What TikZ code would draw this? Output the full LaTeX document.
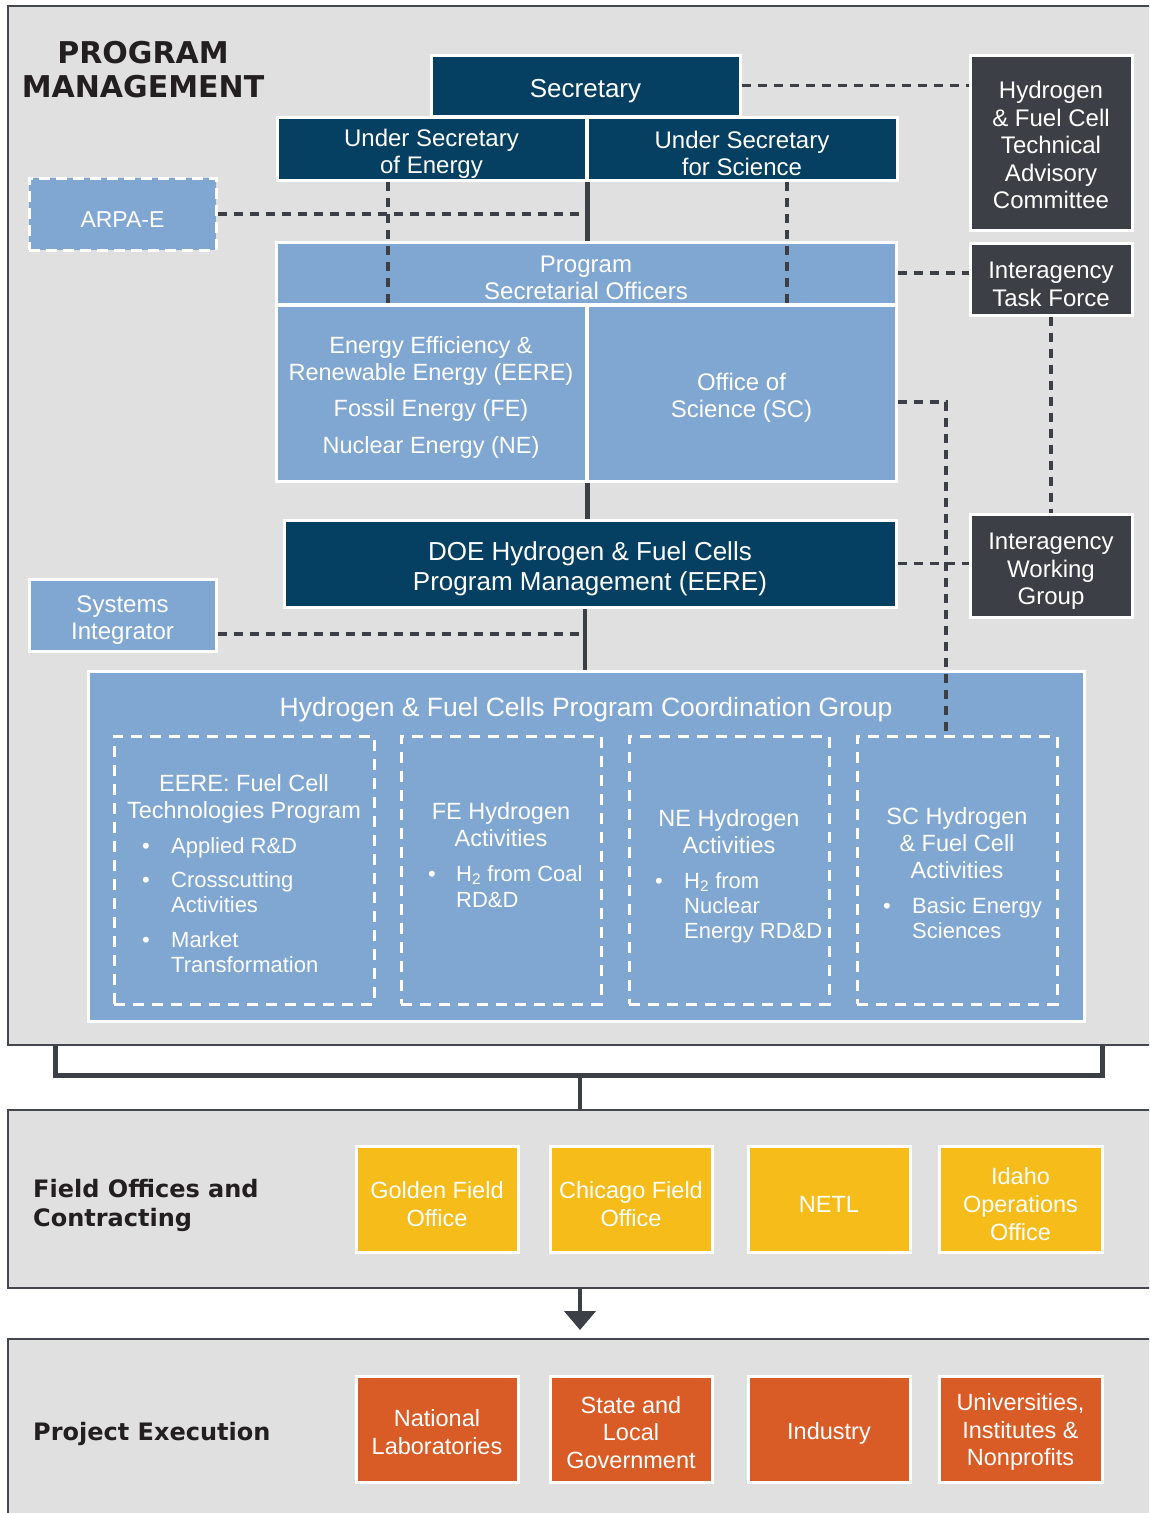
\documentclass[tikz,border=0pt]{standalone}
\usepackage{fontspec}
\setmainfont{Liberation Sans}
\newfontfamily\hdfont{DejaVu Sans}
\usetikzlibrary{arrows.meta,calc}
\definecolor{navy}{HTML}{053F62}
\definecolor{ltblue}{HTML}{80A7D2}
\definecolor{dkgray}{HTML}{3C3F46}
\definecolor{pborder}{HTML}{44474E}
\definecolor{panelgray}{HTML}{E0E0E0}
\definecolor{gold}{HTML}{F6BC19}
\definecolor{rust}{HTML}{D95B26}
\definecolor{hdink}{HTML}{231F20}
\newcommand\fs[2]{\fontsize{#1}{#2}\selectfont}
\newcommand\bx[6]{\node[#1,minimum width={(#4)-(#2)},minimum height={(#5)-(#3)}] (#6) at ({((#2)+(#4))/2},{((#3)+(#5))/2})}
\newcommand\dn{\rule{0pt}{1.13em}}
\begin{document}
\begin{tikzpicture}[x=1pt,y=-1pt,
  panel/.style={draw=pborder, line width=2pt, fill=panelgray, inner sep=0pt},
  navybox/.style={fill=navy, draw=white, line width=3pt, text=white, align=center, inner sep=0pt, font=\fs{24}{27}},
  bluebox/.style={navybox, fill=ltblue},
  darkbox/.style={navybox, fill=dkgray, font=\fs{24}{27.5}},
  goldbox/.style={navybox, fill=gold, font=\fs{23.5}{28}},
  rustbox/.style={navybox, fill=rust, font=\fs{23.5}{27.5}},
  subbox/.style={draw=white, line width=3pt, dash pattern=on 11pt off 8pt, inner sep=0pt},
  dconn/.style={draw=dkgray, line width=3.5pt, dash pattern=on 9pt off 7pt},
  sconn/.style={draw=dkgray, line width=4.5pt},
  hd/.style={text=hdink, inner sep=0pt, font=\hdfont\bfseries\fs{24}{29}, align=left},
  ttl/.style={anchor=base, text=white, inner sep=0pt, font=\fs{26.5}{30}},
  st/.style={anchor=base, text=white, inner sep=0pt, font=\fs{23.5}{27}},
  it/.style={anchor=base west, text=white, inner sep=0pt, font=\fs{22}{25}},
  bu/.style={anchor=base, text=white, inner sep=0pt, font=\fs{22}{25}}
]
\useasboundingbox (0,0) rectangle (1149,1513);
\fill[white] (0,0) rectangle (1149,1513);
\clip (0,0) rectangle (1149,1513);

% panels
\bx{panel}{8}{6}{1170}{1045}{p1} {};
\bx{panel}{8}{1110}{1170}{1288}{p2} {};
\bx{panel}{8}{1339}{1170}{1530}{p3} {};

% headings
\node[hd, align=center, font=\hdfont\bfseries\fs{30}{34}] (hpm) at (143,70) {PROGRAM\\MANAGEMENT};
\node[hd, anchor=west] (hfo) at (33,1205) {Field Offices and\\Contracting};
\node[hd, anchor=west] (hpe) at (33,1434) {Project Execution};

% upper boxes
\bx{navybox, font=\fs{26}{30}}{431}{55}{740}{116}{sec} {\dn Secretary};
\bx{navybox}{277}{117}{586}{180}{use} {\dn Under Secretary\\of Energy};
\bx{navybox}{587}{117}{897}{180}{uss} {\dn Under Secretary\\for Science};
\bx{bluebox, dash pattern=on 11pt off 6pt, font=\fs{23}{27}}{29}{178}{216}{250}{arpa} {\dn ARPA-E};
\bx{bluebox}{276}{242}{896}{304}{pso} {\dn Program\\Secretarial Officers};
\bx{bluebox, font=\fs{23.5}{27}}{276}{305}{586}{481}{eere} {\dn Energy Efficiency \&\\Renewable Energy (EERE)\\[9pt]Fossil Energy (FE)\\[10pt]Nuclear Energy (NE)};
\bx{bluebox}{587}{305}{896}{481}{sc} {\dn Office of\\Science (SC)};
\bx{navybox, font=\fs{26}{30}}{284}{520}{896}{607}{doe} {\dn DOE Hydrogen \& Fuel Cells\\Program Management (EERE)};
\bx{bluebox}{29}{579}{216}{651}{sysint} {\dn Systems\\Integrator};

% right column
\bx{darkbox}{970}{55}{1132}{230}{hfctac} {\rule{0pt}{0.95em}Hydrogen\\\& Fuel Cell\\Technical\\Advisory\\Committee};
\bx{darkbox}{970}{243}{1132}{315}{itf} {\dn Interagency\\Task Force};
\bx{darkbox}{970}{514}{1132}{617}{iwg} {\rule{0pt}{1.2em}Interagency\\Working\\Group};

% coordination group
\bx{bluebox}{88}{671}{1084}{1021}{coord} {};
\node[ttl] (cgt) at (586,716) {Hydrogen \& Fuel Cells Program Coordination Group};
\bx{subbox}{114}{736}{374}{1004}{b1} {};
\bx{subbox}{401}{736}{601}{1004}{b2} {};
\bx{subbox}{629}{736}{829}{1004}{b3} {};
\bx{subbox}{857}{736}{1057}{1004}{b4} {};

\node[st] (t1a) at (244,791) {EERE: Fuel Cell};
\node[st] (t1b) at (244,818) {Technologies Program};
\node[bu] (u1a) at (146,853) {•};
\node[it] (i1a) at (171,853) {Applied R\&D};
\node[bu] (u1b) at (146,887) {•};
\node[it] (i1b) at (171,887) {Crosscutting};
\node[it] (i1c) at (171,912) {Activities};
\node[bu] (u1c) at (146,947) {•};
\node[it] (i1d) at (171,947) {Market};
\node[it] (i1e) at (171,972) {Transformation};

\node[st] (t2a) at (501,819) {FE Hydrogen};
\node[st] (t2b) at (501,846) {Activities};
\node[bu] (u2a) at (432,881) {•};
\node[it] (i2a) at (456,881) {H\textsubscript{2} from Coal};
\node[it] (i2b) at (456,907) {RD\&D};

\node[st] (t3a) at (729,826) {NE Hydrogen};
\node[st] (t3b) at (729,853) {Activities};
\node[bu] (u3a) at (659,888) {•};
\node[it] (i3a) at (684,888) {H\textsubscript{2} from};
\node[it] (i3b) at (684,913) {Nuclear};
\node[it] (i3c) at (684,938) {Energy RD\&D};

\node[st] (t4a) at (957,824) {SC Hydrogen};
\node[st] (t4b) at (957,851) {\& Fuel Cell};
\node[st] (t4c) at (957,878) {Activities};
\node[bu] (u4a) at (887,913) {•};
\node[it] (i4a) at (912,913) {Basic Energy};
\node[it] (i4b) at (912,938) {Sciences};

% field offices
\bx{goldbox}{356}{1146}{518}{1252}{gfo} {\dn Golden Field\\Office};
\bx{goldbox}{550}{1146}{712}{1252}{cfo} {\dn Chicago Field\\Office};
\bx{goldbox}{748}{1146}{910}{1252}{netl} {\dn NETL};
\bx{goldbox}{939}{1146}{1102}{1252}{ioo} {\dn Idaho\\Operations\\Office};

% project execution
\bx{rustbox}{356}{1376}{518}{1482}{nl} {\rule{0pt}{1.0em}National\\Laboratories};
\bx{rustbox}{550}{1376}{712}{1482}{slg} {\rule{0pt}{1.0em}State and\\Local\\Government};
\bx{rustbox}{748}{1376}{910}{1482}{ind} {\dn Industry};
\bx{rustbox}{939}{1376}{1102}{1482}{uin} {\rule{0pt}{1.0em}Universities,\\Institutes \&\\Nonprofits};

% helper coordinates
\coordinate (dv1) at (388,0);
\coordinate (dv2) at (787,0);
\coordinate (sv) at (585,0);
\coordinate (sy) at (0,634);
\coordinate (scx) at (946,402);
\coordinate (bl) at (55,1075);
\coordinate (br) at (1102,1075);
\coordinate (bm) at (580,1075);

% connectors
\draw[dconn] (sec.east) -- (sec.east -| hfctac.west);
\draw[sconn] (use.south east) -- (use.south east |- pso.north);
\draw[dconn] (arpa.east) -- (arpa.east -| sv);
\draw[dconn] (use.south -| dv1) -- (pso.south -| dv1);
\draw[dconn] (uss.south -| dv2) -- (pso.south -| dv2);
\draw[dconn] (pso.east) -- (pso.east -| itf.west);
\draw[dconn] (itf.south) -- (iwg.north);
\draw[dconn] (sc.east |- scx) -- (scx) -- (scx |- b4.north);
\draw[sconn] (eere.south east) -- (eere.south east |- doe.north);
\draw[dconn] (doe.east) -- (doe.east -| iwg.west);
\draw[sconn] (doe.south -| sv) -- (coord.north -| sv);
\draw[dconn] (sysint.east |- sy) -- (sy -| sv);
\draw[sconn, line width=5pt] (p1.south -| bl) -- (bl) -- (br) -- (p1.south -| br);
\draw[sconn] (bm) -- (bm |- p2.north);
\draw[sconn, shorten >=8pt, -{Triangle[width=31pt,length=19pt]}] (p2.south -| bm) -- (p3.north -| bm);
\end{tikzpicture}
\end{document}
